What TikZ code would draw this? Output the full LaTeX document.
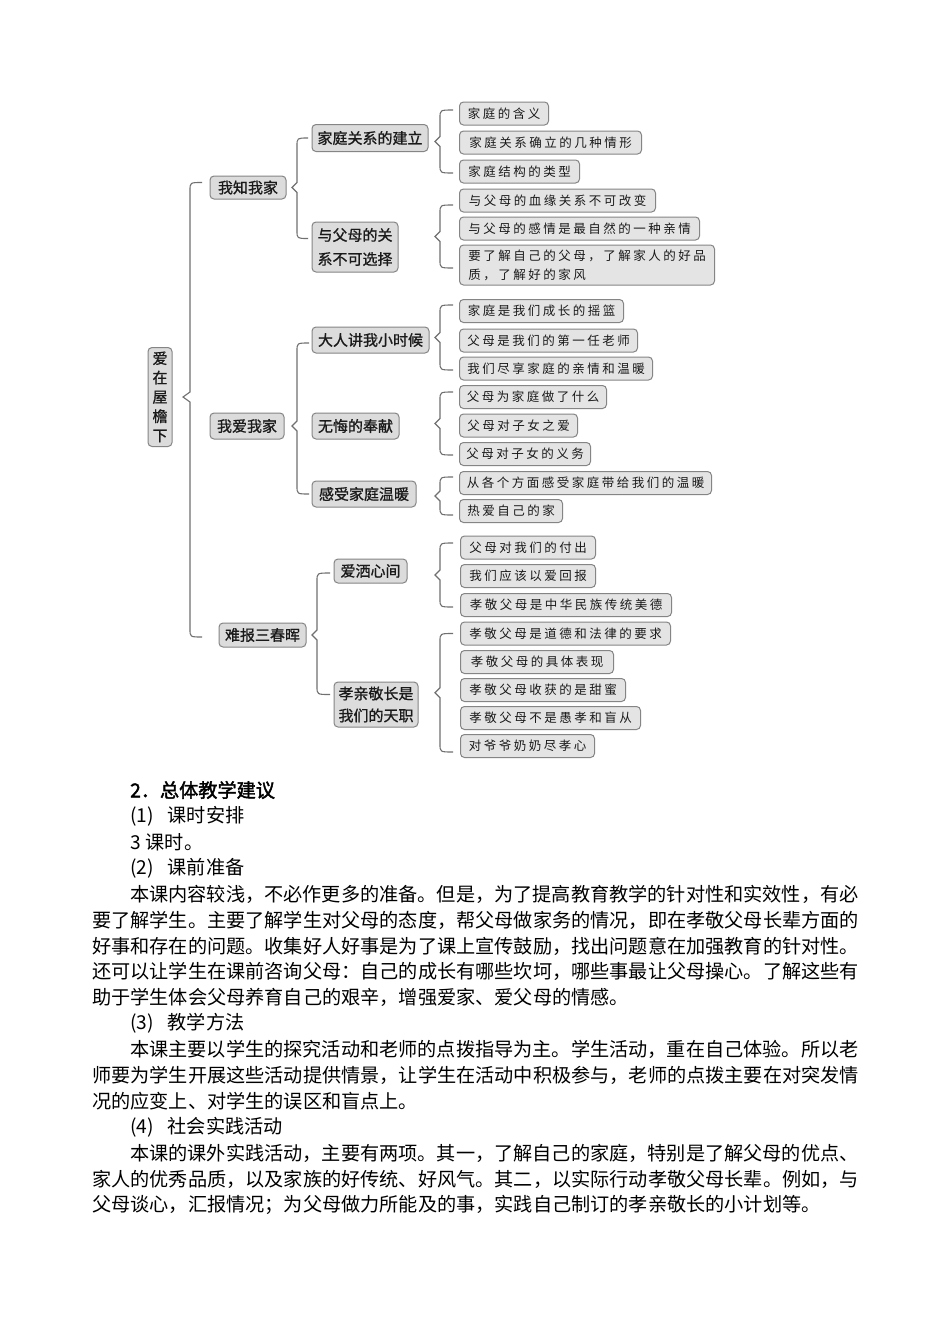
\documentclass[tikz,border=0pt]{standalone}
\usepackage{fontspec}
\setmainfont{Noto Sans CJK SC}
\newfontfamily\cjk{Noto Sans CJK SC}
\newfontfamily\cjkm[FakeBold=1]{Noto Sans CJK SC}
\newfontfamily\cjkls[LetterSpace=20]{Noto Sans CJK SC}
\newfontfamily\cjkb[FakeBold=2]{Noto Sans CJK SC}
\usetikzlibrary{calc}
\definecolor{leaffill}{HTML}{E4E4E4}
\definecolor{midfill}{HTML}{DCDCDC}
\definecolor{boxdraw}{HTML}{858585}
\definecolor{bracecol}{HTML}{707070}
\definecolor{txt}{HTML}{1A1A1A}
% brace whose tip points at a given coordinate
\newcommand\brcp[6]{%
 \draw[brl] let \p1=(#4), \p2=(#5), \p3=(#6) in
  (#2pt,\y1) .. controls (#1pt,\y1) .. (#1pt,\y1-8pt)
  -- (#1pt,\y3+5pt) -- (#1pt-#3pt,\y3) -- (#1pt,\y3-5pt)
  -- (#1pt,\y2+8pt) .. controls (#1pt,\y2) .. (#2pt,\y2);}
% brace whose tip is in its middle
\newcommand\brcm[5]{%
 \draw[brl] let \p1=(#4), \p2=(#5), \p3=($(\p1)!0.5!(\p2)$) in
  (#2pt,\y1) .. controls (#1pt,\y1) .. (#1pt,\y1-8pt)
  -- (#1pt,\y3+5pt) -- (#1pt-#3pt,\y3) -- (#1pt,\y3-5pt)
  -- (#1pt,\y2+8pt) .. controls (#1pt,\y2) .. (#2pt,\y2);}
\begin{document}
\begin{tikzpicture}[x=1pt,y=-1pt,
  midbox/.style={draw=boxdraw, fill=midfill, rounded corners=4pt, line width=1pt,
    font=\cjkm\fontsize{15}{18}\selectfont, text=txt, inner sep=0pt, align=center},
  leafbox/.style={draw=boxdraw, fill=leaffill, rounded corners=4pt, line width=1pt,
    font=\cjkls\fontsize{12.5}{19}\selectfont, text=txt, inner sep=0pt, anchor=west,
    minimum height=23pt},
  brl/.style={draw=bracecol, line width=1.1pt},
  bodyline/.style={anchor=west, inner sep=0pt, font=\cjk\fontsize{19.17}{26}\selectfont, text=black}]
\fill[white] (0,0) rectangle (950,1344);
\useasboundingbox (0,0) rectangle (950,1344);

% root
\node[midbox, minimum width=24pt, minimum height=99pt, font=\cjkm\fontsize{15}{19.3}\selectfont] (root) at (160,397) {爱\\在\\屋\\檐\\下};
% level 1
\node[midbox, minimum width=76pt, minimum height=23pt] (k1) at (248,187.5) {我知我家};
\node[midbox, minimum width=74pt, minimum height=26pt] (k2) at (247,426) {我爱我家};
\node[midbox, minimum width=87pt, minimum height=24pt] (k3) at (262.5,635) {难报三春晖};
% level 2
\node[midbox, minimum width=116pt, minimum height=27pt] (m1) at (370,138) {家庭关系的建立};
\node[midbox, minimum width=86pt, minimum height=50pt, font=\cjkm\fontsize{15}{24}\selectfont] (m2) at (355,247) {与父母的关\\系不可选择};
\node[midbox, minimum width=117pt, minimum height=26pt] (m3) at (370.5,340) {大人讲我小时候};
\node[midbox, minimum width=87pt, minimum height=26pt] (m4) at (355.5,426) {无悔的奉献};
\node[midbox, minimum width=104pt, minimum height=26pt] (m5) at (364,494) {感受家庭温暖};
\node[midbox, minimum width=73pt, minimum height=24pt] (m6) at (370.5,571) {爱洒心间};
\node[midbox, minimum width=84pt, minimum height=45pt, font=\cjkm\fontsize{15}{22}\selectfont] (m7) at (376,704.5) {孝亲敬长是\\我们的天职};
% leaves
\node[leafbox, minimum width=89pt]  (a1) at (459,113.5) {家庭的含义};
\node[leafbox, minimum width=182pt] (a2) at (459,142.5) {家庭关系确立的几种情形};
\node[leafbox, minimum width=120pt] (a3) at (459,171.5) {家庭结构的类型};
\node[leafbox, minimum width=196pt] (b1) at (459,200.5) {与父母的血缘关系不可改变};
\node[leafbox, minimum width=240pt] (b2) at (459,228.5) {与父母的感情是最自然的一种亲情};
\node[leafbox, minimum width=255pt, minimum height=40pt, align=left] (b3) at (459,265) {要了解自己的父母，了解家人的好品\\质，了解好的家风};
\node[leafbox, minimum width=164pt] (c1) at (459,311) {家庭是我们成长的摇篮};
\node[leafbox, minimum width=178pt] (c2) at (459,340.5) {父母是我们的第一任老师};
\node[leafbox, minimum width=193pt] (c3) at (459,368.5) {我们尽享家庭的亲情和温暖};
\node[leafbox, minimum width=147pt] (d1) at (459,397) {父母为家庭做了什么};
\node[leafbox, minimum width=118pt] (d2) at (459,425.5) {父母对子女之爱};
\node[leafbox, minimum width=131pt] (d3) at (459,454) {父母对子女的义务};
\node[leafbox, minimum width=252pt] (e1) at (459,483) {从各个方面感受家庭带给我们的温暖};
\node[leafbox, minimum width=103pt] (e2) at (459,511) {热爱自己的家};
\node[leafbox, minimum width=135pt] (f1) at (460,547.5) {父母对我们的付出};
\node[leafbox, minimum width=135pt] (f2) at (460,576) {我们应该以爱回报};
\node[leafbox, minimum width=211pt] (f3) at (460,605) {孝敬父母是中华民族传统美德};
\node[leafbox, minimum width=210pt] (g1) at (460,633.5) {孝敬父母是道德和法律的要求};
\node[leafbox, minimum width=153pt] (g2) at (460,662) {孝敬父母的具体表现};
\node[leafbox, minimum width=165pt] (g3) at (460,690) {孝敬父母收获的是甜蜜};
\node[leafbox, minimum width=180pt] (g4) at (460,718) {孝敬父母不是愚孝和盲从};
\node[leafbox, minimum width=134pt] (g5) at (460,746) {对爷爷奶奶尽孝心};

% braces (connectors)
\brcp{190}{202}{7}{$(k1.west)+(0,-5)$}{$(k3.west)+(0,2)$}{root.east}
\brcp{297}{308}{5}{m1.west}{$(m2.north west)+(0,17)$}{k1.east}
\brcp{297}{309}{5}{$(m3.west)+(0,3)$}{m5.west}{k2.east}
\brcp{317}{330}{5}{$(m6.west)+(0,2)$}{$(m7.north west)+(0,13)$}{k3.east}
\brcm{440}{453}{5}{$(a1.west)+(0,-3.5)$}{$(a3.west)+(0,1.5)$}
\brcm{440}{453}{5}{$(b1.west)+(0,4.5)$}{$(b3.west)+(0,3)$}
\brcm{440}{453}{5}{$(c1.west)+(0,-6)$}{$(c3.west)+(0,1.5)$}
\brcm{440}{453}{5}{$(d1.west)+(0,-5)$}{$(d3.west)+(0,1)$}
\brcm{440}{453}{5}{$(e1.west)+(0,-6)$}{$(e2.west)+(0,4)$}
\brcm{440}{453}{5}{$(f1.west)+(0,-4.5)$}{$(f3.west)+(0,2)$}
\brcm{440}{453}{5}{$(g1.west)+(0,0)$}{$(g5.west)+(0,6)$}

% text
\node[bodyline, font=\cjkb\fontsize{19.17}{26}\selectfont] (t0) at (130,790) {2．总体教学建议};
\node[bodyline] (t1) at (130,816) {(1)\hspace{14pt}课时安排};
\node[bodyline] (t2) at (130,842) {3\hspace{5pt}课时。};
\node[bodyline] (t3) at (130,868) {(2)\hspace{14pt}课前准备};
\node[bodyline] (t4) at (130,894) {本课内容较浅，不必作更多的准备。但是，为了提高教育教学的针对性和实效性，有必};
\node[bodyline] (t5) at (92,920) {要了解学生。主要了解学生对父母的态度，帮父母做家务的情况，即在孝敬父母长辈方面的};
\node[bodyline] (t6) at (92,946) {好事和存在的问题。收集好人好事是为了课上宣传鼓励，找出问题意在加强教育的针对性。};
\node[bodyline] (t7) at (92,971.5) {还可以让学生在课前咨询父母：自己的成长有哪些坎坷，哪些事最让父母操心。了解这些有};
\node[bodyline] (t8) at (92,997.5) {助于学生体会父母养育自己的艰辛，增强爱家、爱父母的情感。};
\node[bodyline] (t9) at (130,1023.5) {(3)\hspace{14pt}教学方法};
\node[bodyline] (t10) at (130,1049.5) {本课主要以学生的探究活动和老师的点拨指导为主。学生活动，重在自己体验。所以老};
\node[bodyline] (t11) at (92,1075.5) {师要为学生开展这些活动提供情景，让学生在活动中积极参与，老师的点拨主要在对突发情};
\node[bodyline] (t12) at (92,1101.5) {况的应变上、对学生的误区和盲点上。};
\node[bodyline] (t13) at (130,1127.5) {(4)\hspace{14pt}社会实践活动};
\node[bodyline] (t14) at (130,1153.5) {本课的课外实践活动，主要有两项。其一，了解自己的家庭，特别是了解父母的优点、};
\node[bodyline] (t15) at (92,1179.5) {家人的优秀品质，以及家族的好传统、好风气。其二，以实际行动孝敬父母长辈。例如，与};
\node[bodyline] (t16) at (92,1205) {父母谈心，汇报情况；为父母做力所能及的事，实践自己制订的孝亲敬长的小计划等。};
\end{tikzpicture}
\end{document}
